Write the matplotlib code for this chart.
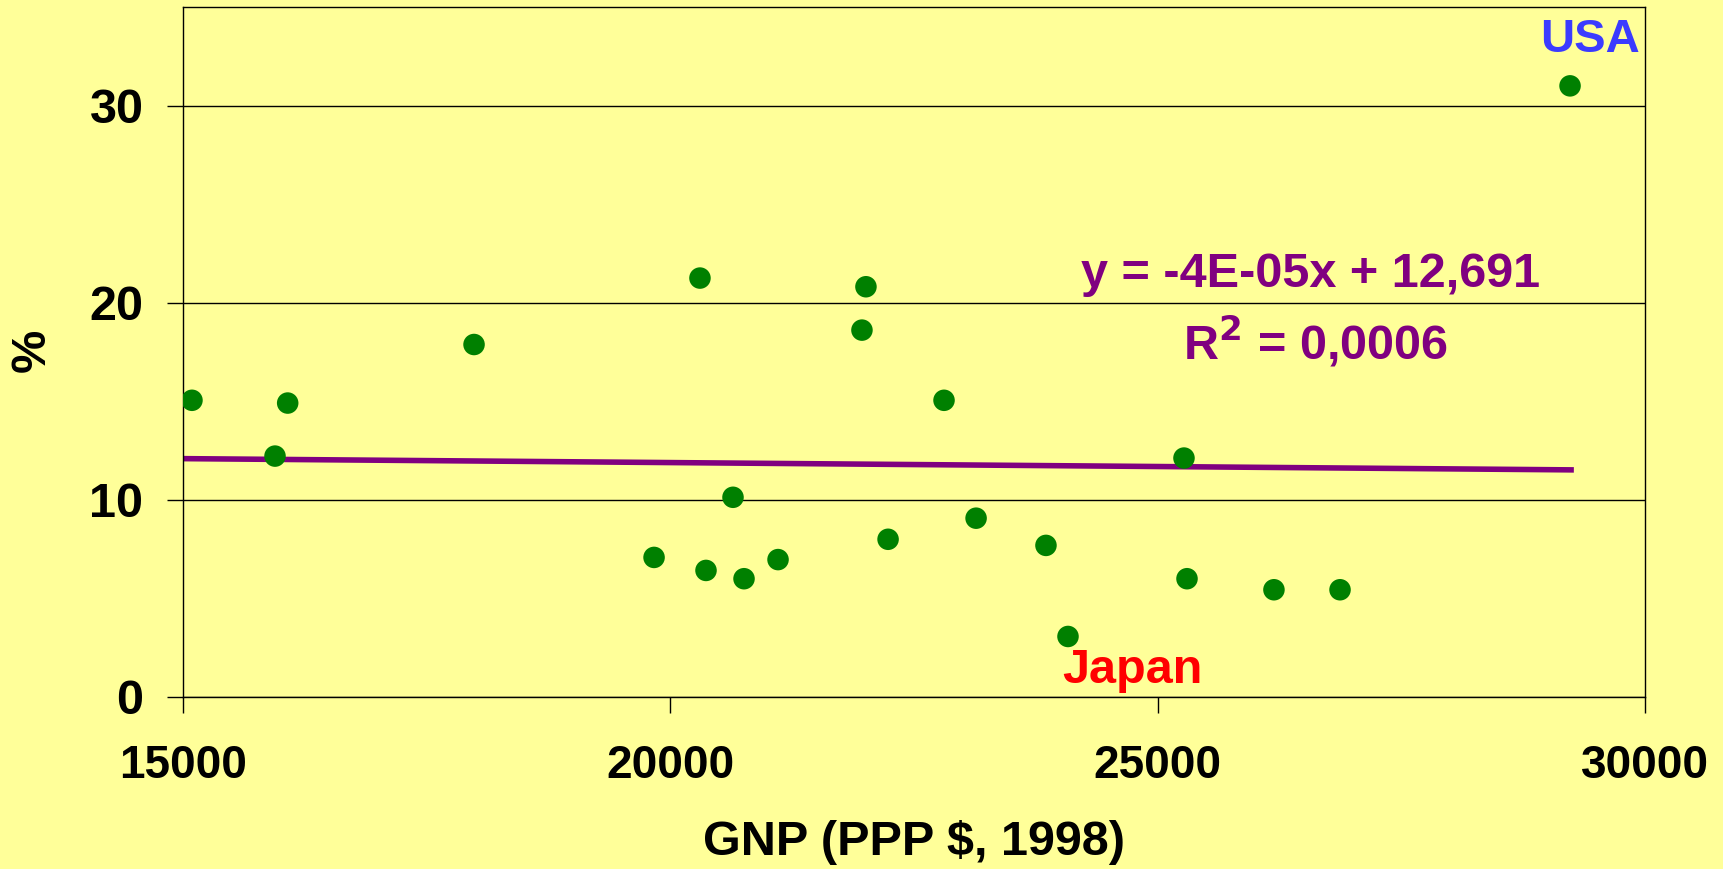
#!/usr/bin/env python3
"""Scatter of % vs GNP (PPP $, 1998) with a linear trendline."""
import matplotlib
matplotlib.use("Agg")
import matplotlib.pyplot as plt
import numpy as np

# data
gnp = [15092, 15944, 16074, 17986, 19833, 20304, 20366, 20643, 20756, 21105, 21966,
       22007, 22234, 22808, 23137, 23854, 24080, 25270, 25301, 26193, 26871, 29231]
pct = [15.05, 12.22, 14.91, 17.88, 7.08, 21.25, 6.42, 10.13, 6.00, 6.97, 18.61,
       20.81, 8.00, 15.05, 9.07, 7.69, 3.07, 12.12, 6.00, 5.44, 5.44, 31.00]

trend_slope = -4e-05
trend_intercept = 12.691
trend_range = [15000, 29270]

x_ticks = [15000, 20000, 25000, 30000]
y_ticks = [0, 10, 20, 30]

BG = "#FFFF99"
W, H = 1723, 869

plt.rcParams["font.family"] = ["Liberation Sans", "DejaVu Sans"]
plt.rcParams["font.weight"] = "bold"

fig = plt.figure(figsize=(W / 100, H / 100), dpi=100, facecolor=BG)
ax = fig.add_axes([183 / W, 1 - 697 / H, (1645 - 183) / W, (697 - 7) / H])
ax.set_facecolor(BG)

tx = np.array(trend_range)
ax.plot(tx, trend_intercept + trend_slope * tx, color="#800080", linewidth=4.0,
        solid_capstyle="butt", zorder=2)
ax.scatter(gnp, pct, s=240, color="#008000", edgecolors="none", zorder=3)

ax.set_xlim(15000, 30000)
ax.set_ylim(0, 35)
ax.set_xticks(x_ticks)
ax.set_yticks(y_ticks)
ax.set_xticklabels([str(v) for v in x_ticks])
ax.set_yticklabels([str(v) for v in y_ticks])
ax.yaxis.grid(True, color="black", linewidth=1.0)
ax.set_axisbelow(True)
for sp in ax.spines.values():
    sp.set_color("black")
    sp.set_linewidth(1.0)
ax.tick_params(axis="both", direction="out", length=11.5, width=1.0, color="black")
ax.tick_params(axis="x", pad=22, labelsize=33)
ax.tick_params(axis="y", pad=17, labelsize=35)

fig.text(914 / W, 1 - 855 / H, "GNP (PPP $, 1998)", ha="center", va="baseline",
         fontsize=35, fontweight="bold")
fig.text(32 / W, 1 - 350 / H, "%", ha="center", va="center", rotation=90,
         fontsize=35, fontweight="bold")

fig.text(1311 / W, 1 - 287 / H, "y = -4E-05x + 12,691", ha="center", va="baseline",
         fontsize=35, fontweight="bold", color="#800080")
fig.text(1315 / W, 1 - 360 / H, r"R$^\mathbf{2}$ = 0,0006", ha="center", va="baseline",
         fontsize=35, fontweight="bold", color="#800080")
fig.text(1590 / W, 1 - 52 / H, "USA", ha="center", va="baseline",
         fontsize=34, fontweight="bold", color="#3B3BFF")
fig.text(1062 / W, 1 - 683 / H, "Japan", ha="left", va="baseline",
         fontsize=35, fontweight="bold", color="#FF0000")

fig.savefig("out.png", dpi=100, facecolor=BG)
plt.close(fig)
